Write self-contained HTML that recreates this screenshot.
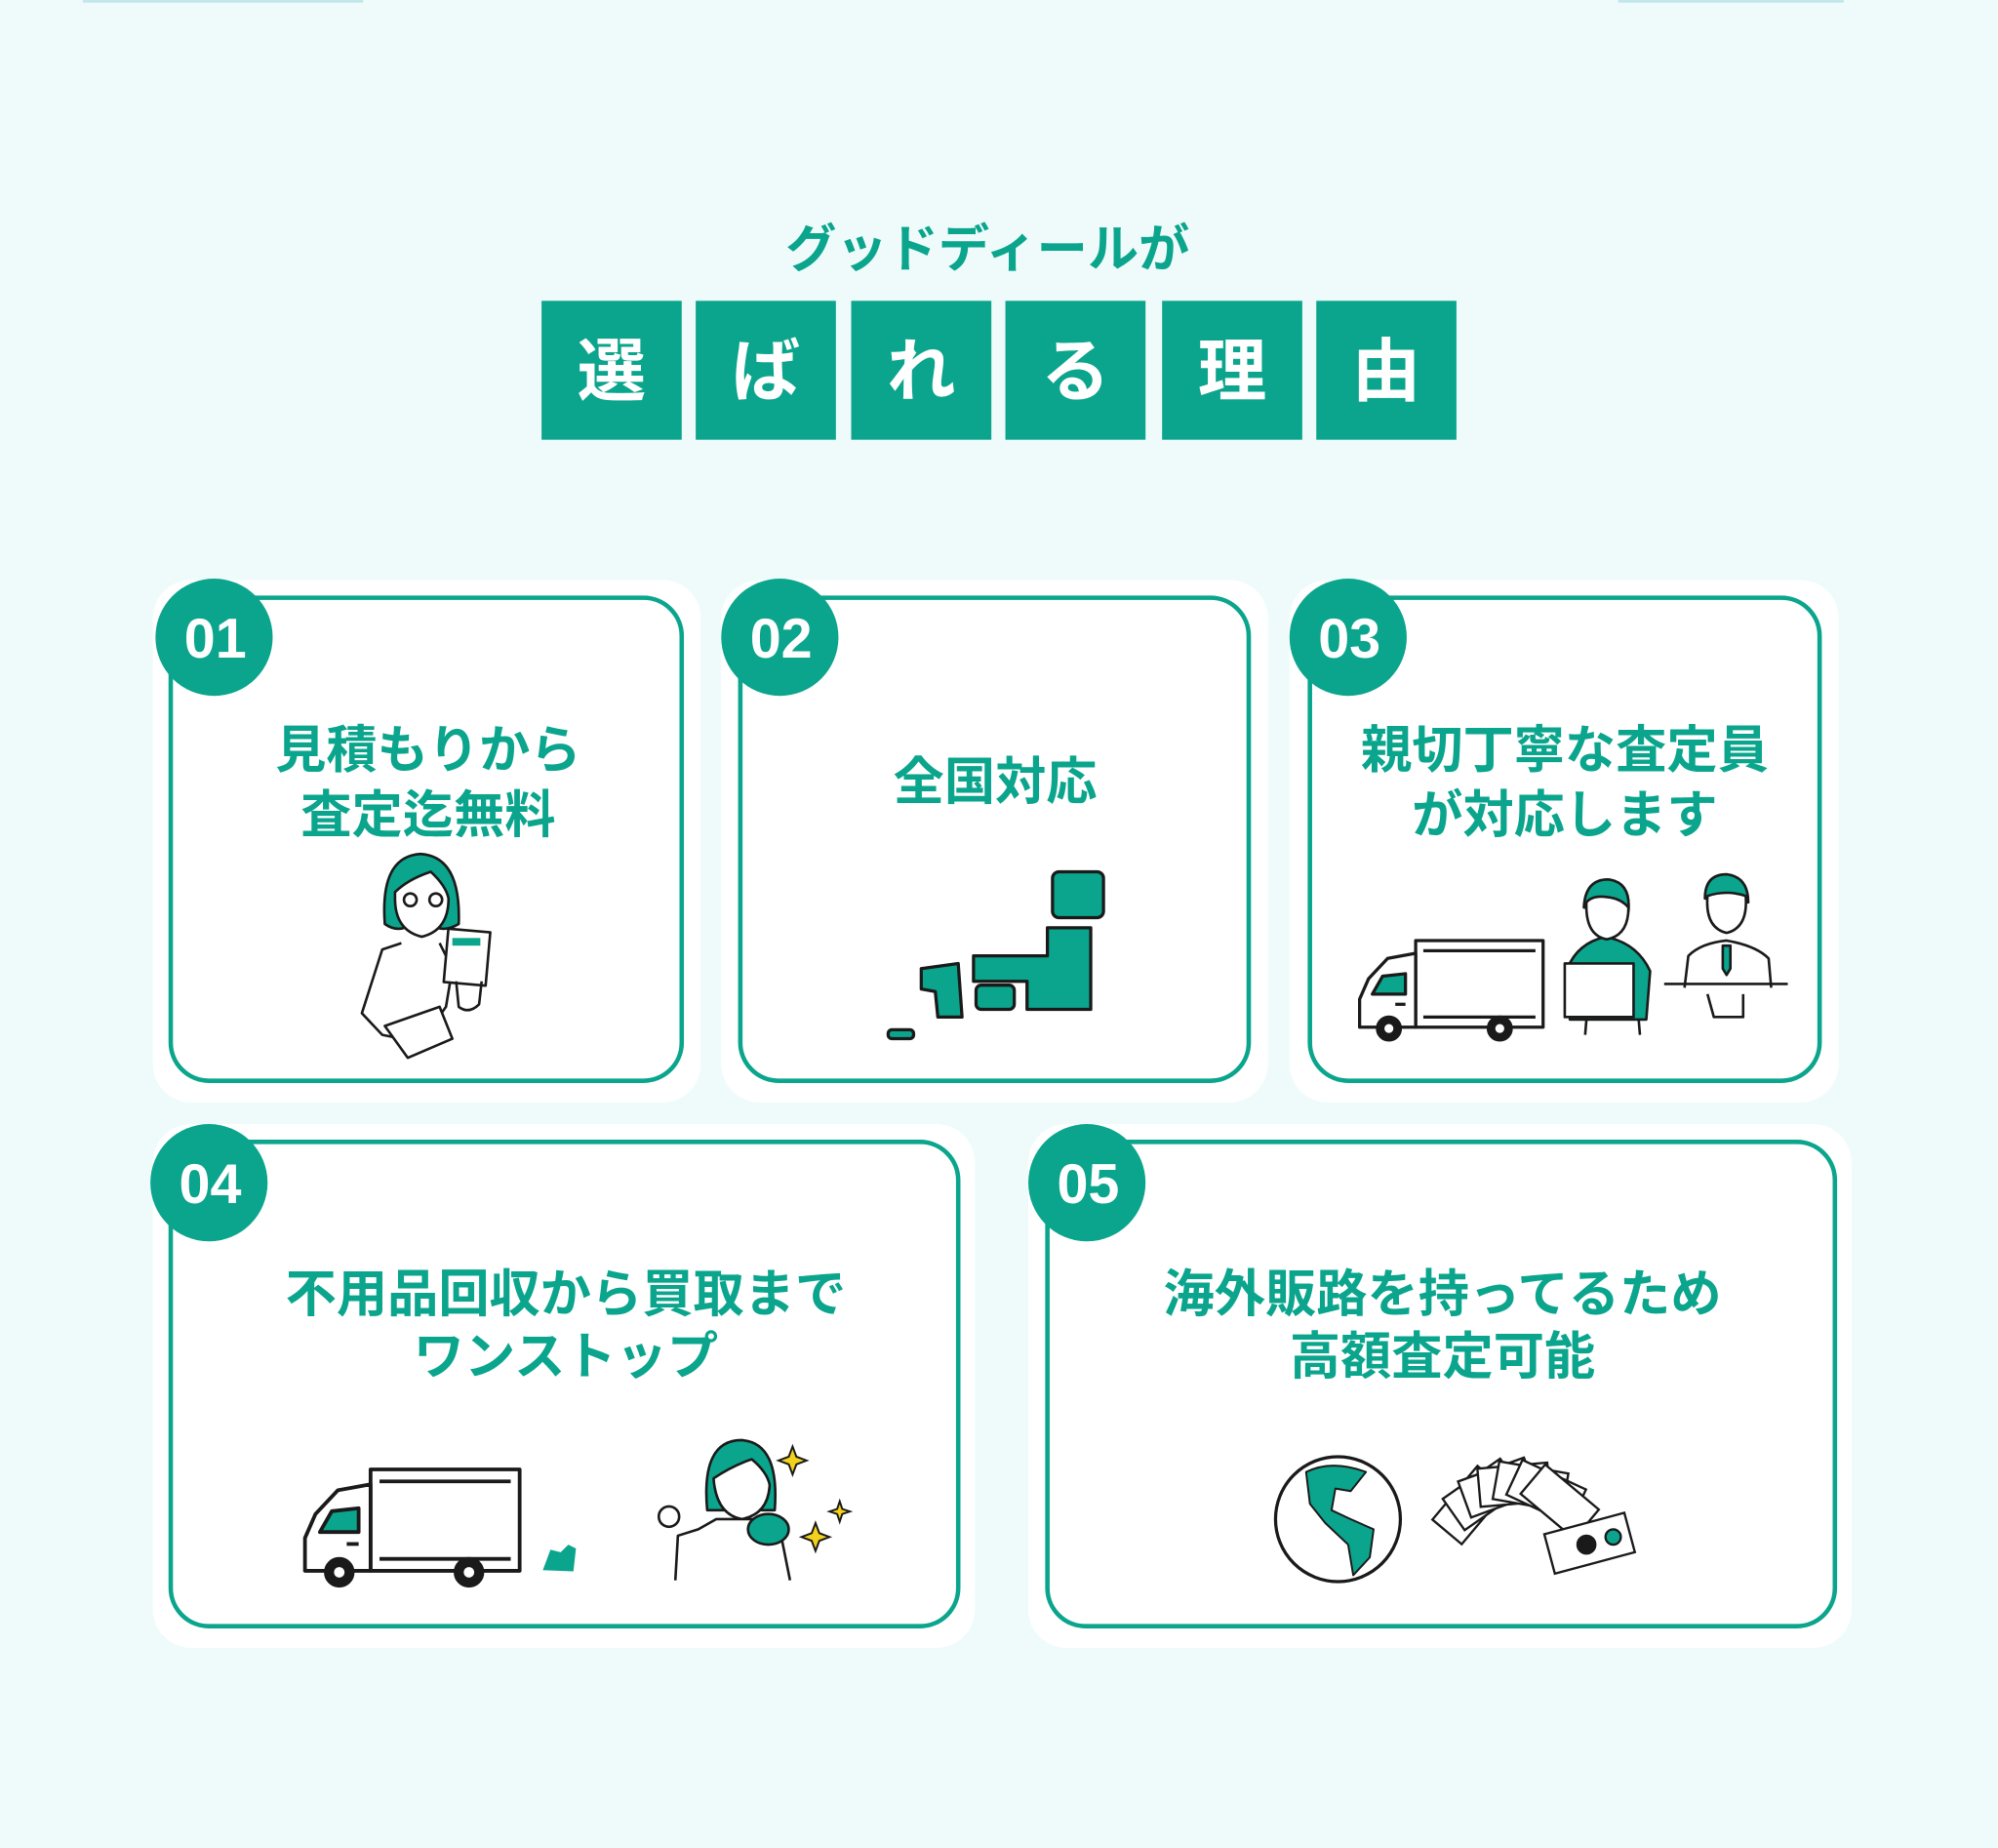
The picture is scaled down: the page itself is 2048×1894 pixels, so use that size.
<!DOCTYPE html>
<html><head><meta charset="utf-8"><style>
html,body{margin:0;padding:0;background:#effbfb;}
svg{display:block}
text{font-family:"Liberation Sans","Noto Sans CJK JP",sans-serif;font-weight:bold}
</style></head><body>
<svg width="2048" height="1894" viewBox="0 0 1568 1450" xmlns="http://www.w3.org/2000/svg">
<defs>
<g id="truck" fill="none" stroke="#1a1a1a" stroke-width="2.5" stroke-linejoin="round">
 <rect x="46" y="0" width="100" height="68" fill="#fff"/>
 <line x1="52" y1="8" x2="140" y2="8"/><line x1="52" y1="60" x2="140" y2="60"/>
 <path d="M46 10 L24 14 L9 30 L2 46 L2 68 L46 68 Z" fill="#fff"/>
 <path d="M12 42 L20 28 L38 26 L38 42 Z" fill="#0aa58c"/>
 <line x1="30" y1="50" x2="38" y2="50"/>
 <circle cx="25" cy="69" r="9" fill="#1a1a1a"/><circle cx="25" cy="69" r="3.5" fill="#fff" stroke="none"/>
 <circle cx="112" cy="69" r="9" fill="#1a1a1a"/><circle cx="112" cy="69" r="3.5" fill="#fff" stroke="none"/>
</g>
</defs>
<rect width="1568" height="1450" fill="#effbfb"/>
<rect x="65" y="0" width="220" height="2" fill="#bfe6ea"/>
<rect x="1270" y="0" width="177" height="2" fill="#bfe6ea"/>

<text x="775" y="209" font-size="40" fill="#0aa58c" text-anchor="middle">グッドディールが</text>
<g fill="#0aa58c">
<rect x="425" y="236" width="110" height="109"/><rect x="546" y="236" width="110" height="109"/>
<rect x="668" y="236" width="110" height="109"/><rect x="789" y="236" width="110" height="109"/>
<rect x="912" y="236" width="110" height="109"/><rect x="1033" y="236" width="110" height="109"/>
</g>
<g fill="#fff" font-size="54" text-anchor="middle">
<text x="480" y="310">選</text><text x="601" y="310">ば</text><text x="723" y="310">れ</text>
<text x="844" y="310">る</text><text x="967" y="310">理</text><text x="1088" y="310">由</text>
</g>

<g fill="#fff">
<rect x="120" y="455" width="430" height="410" rx="30"/>
<rect x="566" y="455" width="429" height="410" rx="30"/>
<rect x="1012" y="455" width="431" height="410" rx="30"/>
<rect x="120" y="882" width="645" height="411" rx="30"/>
<rect x="807" y="882" width="646" height="411" rx="30"/>
</g>
<g fill="#fff" stroke="#0aa58c" stroke-width="3.5">
<rect x="134" y="469" width="401" height="379" rx="30"/>
<rect x="581" y="469" width="399" height="379" rx="30"/>
<rect x="1028" y="469" width="400" height="379" rx="30"/>
<rect x="134" y="896" width="618" height="380" rx="30"/>
<rect x="822" y="896" width="618" height="380" rx="30"/>
</g>
<g fill="#0aa58c">
<circle cx="168" cy="500" r="46"/><circle cx="612" cy="500" r="46"/><circle cx="1058" cy="500" r="46"/>
<circle cx="164" cy="928" r="46"/><circle cx="853" cy="928" r="46"/>
</g>
<g fill="#fff" font-size="44" text-anchor="middle" font-family="Liberation Sans,sans-serif">
<text x="169" y="516">01</text><text x="613" y="516">02</text><text x="1059" y="516">03</text>
<text x="165" y="944">04</text><text x="854" y="944">05</text>
</g>
<g fill="#0aa58c" font-size="40" text-anchor="middle">
<text x="336" y="602">見積もりから</text><text x="336" y="653">査定迄無料</text>
<text x="781" y="627">全国対応</text>
<text x="1228" y="602">親切丁寧な査定員</text><text x="1228" y="653">が対応します</text>
<text x="444" y="1029">不用品回収から買取まで</text><text x="444" y="1078">ワンストップ</text>
<text x="1132" y="1029">海外販路を持ってるため</text><text x="1132" y="1078">高額査定可能</text>
</g>

<g stroke="#1a1a1a" stroke-width="2" fill="none" stroke-linejoin="round">
 <path d="M302 725 Q298 672 330 670 Q362 672 360 725 Q348 732 340 726 L322 726 Q312 732 302 725Z" fill="#0aa58c"/>
 <path d="M310 700 Q320 690 338 684 Q350 695 352 705 Q352 730 331 735 Q310 730 310 705Z" fill="#fff"/>
 <circle cx="322" cy="706" r="5"/><circle cx="342" cy="706" r="5"/>
 <path d="M315 740 L300 745 L284 795 L300 812 L330 818 L350 790 L355 760 L345 740"/>
 <path d="M302 805 L320 830 L355 815 L345 790 Z" fill="#fff"/>
 <rect x="350" y="730" width="33" height="42" transform="rotate(5 366 751)" fill="#fff"/>
 <rect x="355" y="736" width="22" height="6" fill="#0aa58c" stroke="none"/>
 <path d="M358 770 L360 790 Q368 796 376 788 L378 770"/>
</g>

<g fill="#0aa58c" stroke="#1a1a1a" stroke-width="2.5" stroke-linejoin="round">
 <rect x="826" y="684" width="40" height="36" rx="5"/>
 <path d="M822 728 L856 728 L856 792 L806 792 L806 770 L764 770 L764 750 L822 750 Z"/>
 <path d="M723 760 L752 756 L755 798 L736 798 L734 778 L723 776Z"/>
 <rect x="766" y="773" width="30" height="19" rx="4"/>
 <rect x="697" y="808" width="20" height="7" rx="3"/>
</g>

<use href="#truck" x="1065" y="738"/>
<g stroke="#1a1a1a" stroke-width="2" fill="none" stroke-linejoin="round">
 <path d="M1232 800 L1230 760 Q1238 740 1260 735 Q1285 740 1295 762 L1292 800 Z" fill="#0aa58c"/>
 <path d="M1243 712 Q1244 690 1262 690 Q1280 692 1278 715 Z" fill="#0aa58c"/>
 <path d="M1245 708 Q1250 702 1262 704 Q1272 705 1278 712 Q1278 734 1261 737 Q1244 734 1245 708Z" fill="#fff"/>
 <rect x="1228" y="756" width="54" height="42" fill="#fff"/>
 <line x1="1245" y1="800" x2="1244" y2="812"/><line x1="1286" y1="800" x2="1287" y2="812"/>
 <path d="M1338 705 Q1338 686 1355 686 Q1372 688 1372 708 Z" fill="#0aa58c"/>
 <path d="M1340 703 Q1355 698 1370 703 Q1372 728 1355 732 Q1338 728 1340 703Z" fill="#fff"/>
 <path d="M1322 775 L1325 750 Q1335 740 1355 738 Q1378 742 1388 752 L1390 775" fill="#fff"/>
 <path d="M1352 742 L1358 742 L1358 760 L1355 765 L1352 760Z" fill="#0aa58c"/>
 <line x1="1306" y1="772" x2="1403" y2="772"/>
 <path d="M1340 780 L1345 798 L1368 798 L1368 780" fill="#fff"/>
</g>

<g transform="translate(237 1153) scale(1.17)"><use href="#truck"/></g>
<path d="M426 1232 L432 1216 L440 1218 L446 1212 L452 1215 L450 1233 Z" fill="#0aa58c"/>
<g stroke="#1a1a1a" stroke-width="2" fill="none" stroke-linejoin="round">
 <path d="M555 1185 Q550 1130 582 1130 Q612 1132 608 1185 Z" fill="#0aa58c"/>
 <path d="M560 1160 Q575 1150 590 1145 Q602 1155 604 1165 Q603 1188 582 1192 Q562 1188 560 1160Z" fill="#fff"/>
 <path d="M530 1240 L532 1205 L548 1200 L562 1192 L600 1192 L612 1200 L620 1240" fill="#fff"/>
 <circle cx="525" cy="1190" r="8" fill="#fff"/>
 <ellipse cx="603" cy="1200" rx="16" ry="12" fill="#0aa58c"/>
</g>
<g fill="#f3d21b" stroke="#1a1a1a" stroke-width="1.5">
 <path d="M622 1135 L625 1143 L633 1146 L625 1149 L622 1157 L619 1149 L611 1146 L619 1143Z"/>
 <path d="M659 1178 L661 1184 L667 1186 L661 1188 L659 1194 L657 1188 L651 1186 L657 1184Z"/>
 <path d="M640 1195 L643 1203 L651 1206 L643 1209 L640 1217 L637 1209 L629 1206 L637 1203Z"/>
</g>

<g stroke="#1a1a1a" stroke-width="2.5" stroke-linejoin="round">
 <circle cx="1050" cy="1192" r="49" fill="#fff"/>
 <path d="M1025 1155 Q1045 1145 1072 1155 L1060 1170 L1048 1168 L1045 1185 L1060 1192 L1078 1200 L1075 1222 L1062 1236 L1058 1212 L1040 1195 L1028 1180Z" fill="#0aa58c" stroke-width="1.5"/>
</g>
<g stroke="#1a1a1a" stroke-width="1.8" fill="#fff">
 <rect x="1165" y="1150" width="55" height="30" transform="rotate(-50 1190 1215)"/>
 <rect x="1165" y="1150" width="55" height="30" transform="rotate(-35 1190 1215)"/>
 <rect x="1165" y="1150" width="55" height="30" transform="rotate(-20 1190 1215)"/>
 <rect x="1165" y="1150" width="55" height="30" transform="rotate(-5 1190 1215)"/>
 <rect x="1165" y="1150" width="55" height="30" transform="rotate(10 1190 1215)"/>
 <rect x="1165" y="1150" width="55" height="30" transform="rotate(25 1190 1215)"/>
 <rect x="1165" y="1150" width="55" height="30" transform="rotate(40 1190 1215)"/>
 <rect x="1215" y="1195" width="65" height="32" transform="rotate(-15 1247 1211)"/>
 <circle cx="1245" cy="1212" r="7" fill="#1a1a1a"/>
 <circle cx="1266" cy="1206" r="6" fill="#0aa58c"/>
</g>
</svg>
</body></html>
